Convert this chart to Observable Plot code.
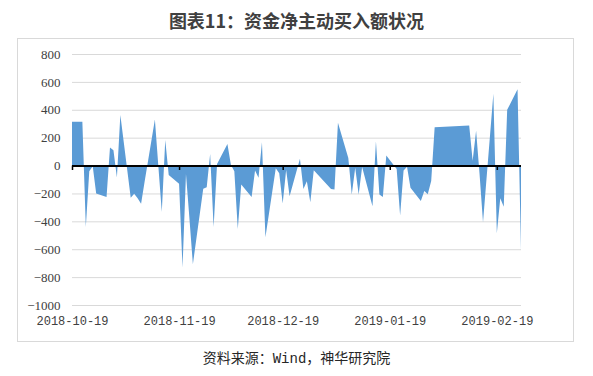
<!DOCTYPE html>
<html><head><meta charset="utf-8">
<script src="https://cdn.jsdelivr.net/npm/d3@7"></script>
<script src="https://cdn.jsdelivr.net/npm/@observablehq/plot@0.6"></script>
<style>
body{margin:0;background:#fff;}
#wrap{position:relative;width:593px;height:376px;overflow:hidden;background:#fff;}
#title{position:absolute;left:0;top:8px;width:593px;text-align:center;font-weight:bold;font-size:18px;font-family:"Noto Sans CJK SC",sans-serif;color:#404040;line-height:24px;}
#box{position:absolute;left:17px;top:38px;width:557px;height:304px;border:1px solid #d9d9d9;box-sizing:border-box;}
#chart{position:absolute;left:0;top:0;}
#caption{position:absolute;left:0;top:350px;width:593px;text-align:center;font-size:14px;font-family:"Liberation Mono","Noto Sans CJK SC",monospace;color:#262626;line-height:18px;}
</style></head>
<body>
<div id="wrap">
  <div id="title">图表11：资金净主动买入额状况</div>
  <div id="box"></div>
  <div id="chart"></div>
  <div id="caption">资料来源：Wind，神华研究院</div>
</div>
<script>
const dates = [
"2018-10-19","2018-10-22","2018-10-23","2018-10-24","2018-10-25","2018-10-26","2018-10-29","2018-10-30","2018-10-31",
"2018-11-01","2018-11-02","2018-11-05","2018-11-06","2018-11-07","2018-11-08","2018-11-09","2018-11-12","2018-11-13",
"2018-11-14","2018-11-15","2018-11-16","2018-11-19","2018-11-20","2018-11-21","2018-11-22","2018-11-23","2018-11-26",
"2018-11-27","2018-11-28","2018-11-29","2018-11-30","2018-12-03","2018-12-04","2018-12-05","2018-12-06","2018-12-07",
"2018-12-10","2018-12-11","2018-12-12","2018-12-13","2018-12-14","2018-12-17","2018-12-18","2018-12-19","2018-12-20",
"2018-12-21","2018-12-24","2018-12-25","2018-12-26","2018-12-27","2018-12-28","2019-01-02","2019-01-03","2019-01-04",
"2019-01-07","2019-01-08","2019-01-09","2019-01-10","2019-01-11","2019-01-14","2019-01-15","2019-01-16","2019-01-17",
"2019-01-18","2019-01-21","2019-01-22","2019-01-23","2019-01-24","2019-01-25","2019-01-28","2019-01-29","2019-01-30",
"2019-01-31","2019-02-01","2019-02-11","2019-02-12","2019-02-13","2019-02-14","2019-02-15","2019-02-18","2019-02-19",
"2019-02-20","2019-02-21","2019-02-22","2019-02-25","2019-02-26"
];
const values = [
315,315,-440,-40,-5,-200,-225,130,110,
-85,362,-230,-202,-235,-274,-120,330,-5,
-333,183,-67,-131,-731,-60,-380,-707,-167,
-155,83,-440,12,155,5,-40,-455,-135,
-225,-35,-88,168,-515,-20,-55,-273,-32,
-220,48,-168,-113,-263,-34,-168,-172,307,
55,-208,-15,-208,-10,-292,175,-208,-225,
72,-25,-359,-35,-8,-160,-255,-182,-205,
-110,275,288,35,250,-60,-407,515,-486,
-235,-295,400,548,-605
];
const yTicks = [-1000,-800,-600,-400,-200,0,200,400,600,800];
const xTickLabels = ["2018-10-19","2018-11-19","2018-12-19","2019-01-19","2019-02-19"];

const parse = s => new Date(s + "T00:00:00Z");
const data = dates.map((d, i) => ({date: parse(d), value: values[i]}));
const xTicks = xTickLabels.map(parse);

const chart = Plot.plot({
  width: 593, height: 376,
  marginLeft: 72, marginRight: 72, marginTop: 54, marginBottom: 71,
  x: {type: "utc", domain: [data[0].date, data[data.length - 1].date], label: null},
  y: {domain: [-1000, 800], label: null},
  style: {background: "transparent", overflow: "visible"},
  marks: [
    Plot.gridY(yTicks, {stroke: "#d9d9d9", strokeOpacity: 1}),
    Plot.areaY(data, {x: "date", y: "value", fill: "#5b9bd5", curve: "linear"}),
    Plot.ruleY([0], {stroke: "#000", strokeWidth: 2}),
    Plot.ruleX(xTicks, {x: d => d, y1: 0, y2: -32, stroke: "#000", strokeWidth: 1.5}),
    Plot.axisY(yTicks, {tickSize: 0, tickPadding: 12, fontSize: 13, fontFamily: "Liberation Serif", fill: "#404040",
      tickFormat: d => d < 0 ? "\u2212" + Math.abs(d) : String(d)}),
    Plot.axisX(xTicks, {tickSize: 0, tickPadding: 11, fontSize: 12, fontFamily: "Liberation Mono", fill: "#404040",
      tickFormat: d3.utcFormat("%Y-%m-%d")})
  ]
});
document.getElementById("chart").appendChild(chart);
</script>
</body></html>
